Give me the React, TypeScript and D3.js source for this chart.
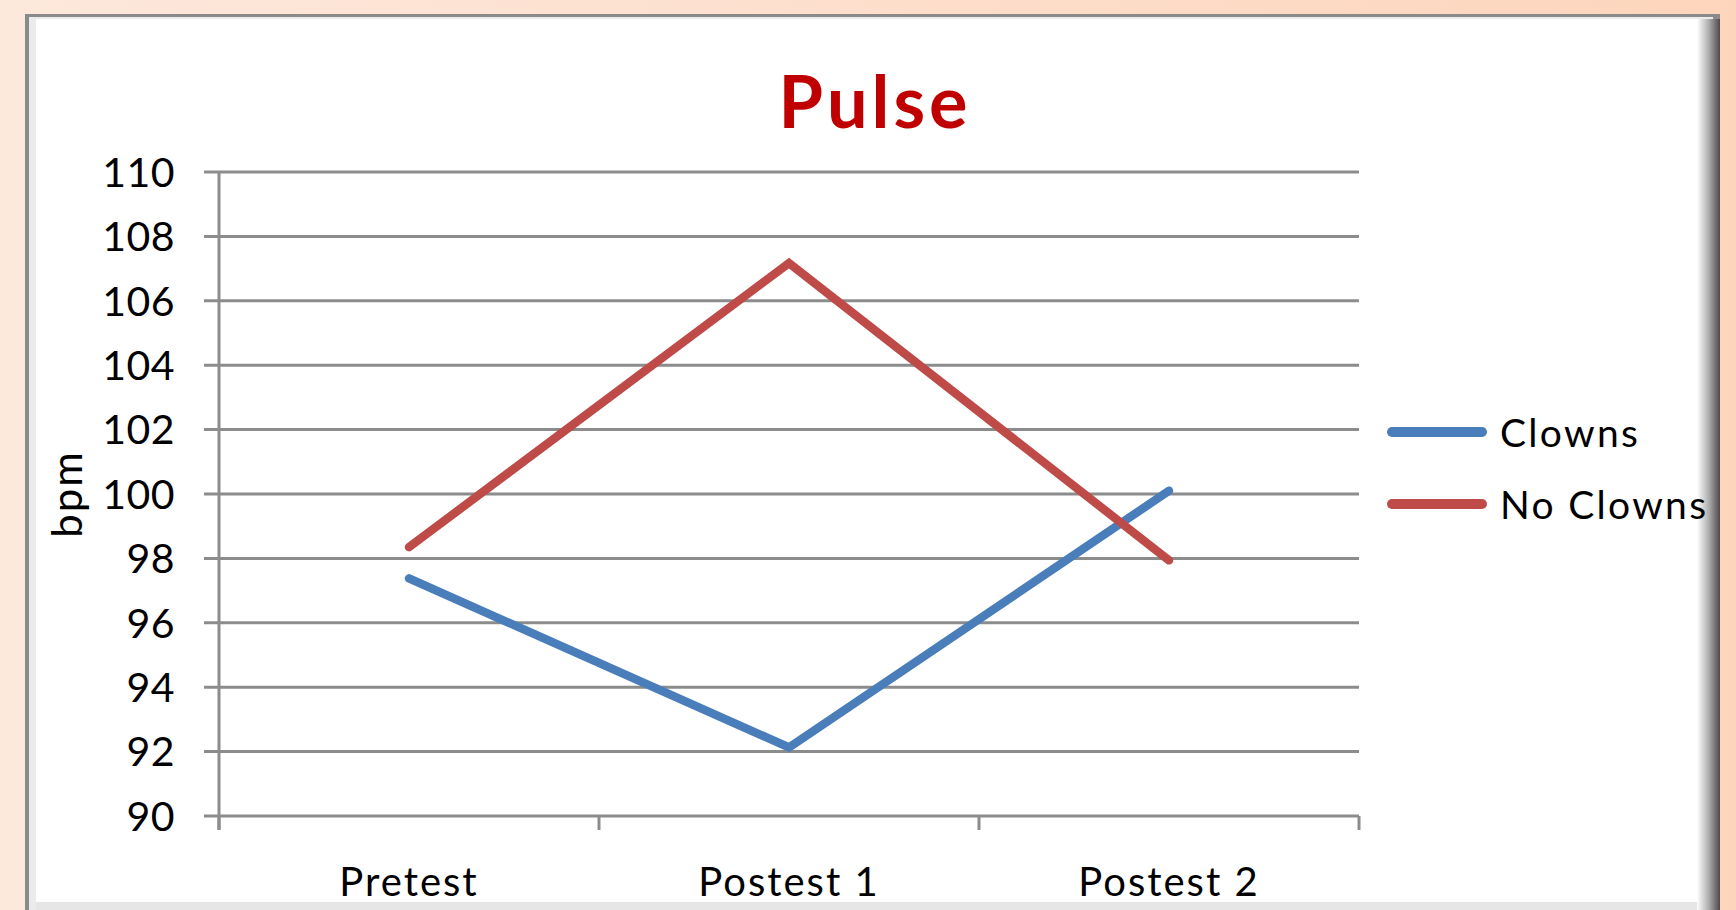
import { useRef, useEffect } from 'react';
import * as d3 from 'd3';

// Pulse (bpm) at each measurement point
const CATEGORIES = ['Pretest', 'Postest 1', 'Postest 2'];
const CLOWNS = [97.38, 92.13, 100.1];
const NO_CLOWNS = [98.35, 107.17, 97.94];
const Y_TICKS = [90, 92, 94, 96, 98, 100, 102, 104, 106, 108, 110];

const SERIES = [
  { name: 'Clowns', values: CLOWNS, color: '#4a7ebb' },
  { name: 'No Clowns', values: NO_CLOWNS, color: '#be4b48' },
];

export default function App() {
  const ref = useRef<SVGSVGElement>(null);

  useEffect(() => {
    const svg = ref.current;
    if (!svg) return;
    const W = 1736, H = 910;
    const padL = 219, padR = 1359, padT = 172, padB = 816;
    const font = 'Lato, "Open Sans", sans-serif';

    d3.select(svg).selectAll('*').remove();
    const root = d3.select(svg).attr('width', W).attr('height', H).attr('viewBox', `0 0 ${W} ${H}`);

    // Background: peach page and white panel with shadowed edge
    const defs = root.append('defs');
    const bg = defs.append('linearGradient').attr('id', 'bg').attr('x1', 0).attr('x2', 1).attr('y1', 0).attr('y2', 0);
    bg.append('stop').attr('offset', 0).attr('stop-color', '#fde8dc');
    bg.append('stop').attr('offset', 1).attr('stop-color', '#fdd5bc');
    const sh = defs.append('linearGradient').attr('id', 'sh').attr('x1', 0).attr('x2', 1).attr('y1', 0).attr('y2', 0);
    sh.append('stop').attr('offset', 0).attr('stop-color', '#ffffff');
    sh.append('stop').attr('offset', 0.5).attr('stop-color', '#b0b0b0');
    sh.append('stop').attr('offset', 1).attr('stop-color', '#4a4a4a');

    root.append('rect').attr('width', W).attr('height', H).attr('fill', 'url(#bg)');
    root.append('rect').attr('x', 25).attr('y', 14).attr('width', 1695).attr('height', H).attr('fill', '#8a8a8a');
    root.append('rect').attr('x', 29).attr('y', 17).attr('width', 1684).attr('height', H).attr('fill', '#ebebeb');
    root.append('rect').attr('x', 36).attr('y', 19).attr('width', 1677).attr('height', 883).attr('fill', '#ffffff');
    root.append('rect').attr('x', 1697).attr('y', 19).attr('width', 23).attr('height', H).attr('fill', 'url(#sh)');
    root.append('rect').attr('x', 36).attr('y', 902).attr('width', 1661).attr('height', 8).attr('fill', '#e6e6e6');

    const g = root.append('g');

    const x = d3.scaleBand<string>().domain(CATEGORIES).range([padL, padR]).padding(0);
    const y = d3.scaleLinear().domain([90, 110]).range([padB, padT]);

    // Gridlines + y ticks
    Y_TICKS.forEach((v) => {
      g.append('line')
        .attr('x1', padL - 15).attr('x2', padR).attr('y1', y(v)).attr('y2', y(v))
        .attr('stroke', '#8c8c8c').attr('stroke-width', 3);
      g.append('text')
        .attr('x', 175).attr('y', y(v)).attr('dy', '0.36em')
        .attr('text-anchor', 'end').attr('font-family', font).attr('font-size', 41)
        .attr('letter-spacing', 0.5).attr('fill', '#000')
        .text(v);
    });

    // Y axis
    g.append('line').attr('x1', padL).attr('x2', padL).attr('y1', padT).attr('y2', padB + 14)
      .attr('stroke', '#8c8c8c').attr('stroke-width', 3);

    // X ticks at band edges
    [...CATEGORIES.map((c) => x(c) as number), padR].forEach((px) => {
      g.append('line').attr('x1', px).attr('x2', px).attr('y1', padB).attr('y2', padB + 14)
        .attr('stroke', '#8c8c8c').attr('stroke-width', 3);
    });

    // X labels
    CATEGORIES.forEach((c) => {
      g.append('text')
        .attr('x', (x(c) as number) + x.bandwidth() / 2).attr('y', 896)
        .attr('text-anchor', 'middle').attr('font-family', font).attr('font-size', 40)
        .attr('letter-spacing', 2).attr('fill', '#000')
        .text(c);
    });

    // Lines
    const line = d3.line<number>()
      .x((_, i) => (x(CATEGORIES[i]) as number) + x.bandwidth() / 2)
      .y((d) => y(d));

    SERIES.forEach((s) => {
      g.append('path').datum(s.values).attr('d', line)
        .attr('fill', 'none').attr('stroke', s.color).attr('stroke-width', 8.5)
        .attr('stroke-linecap', 'round').attr('stroke-linejoin', 'miter');
    });

    // Legend
    SERIES.forEach((s, i) => {
      const ly = 432 + i * 72;
      g.append('line').attr('x1', 1392).attr('x2', 1482).attr('y1', ly).attr('y2', ly)
        .attr('stroke', s.color).attr('stroke-width', 10).attr('stroke-linecap', 'round');
      g.append('text').attr('x', 1500).attr('y', ly + 15)
        .attr('font-family', font).attr('font-size', 39).attr('letter-spacing', 2.3).attr('fill', '#000')
        .text(s.name);
    });

    // Axis title
    g.append('text')
      .attr('transform', `translate(82, ${(padT + padB) / 2}) rotate(-90)`)
      .attr('text-anchor', 'middle').attr('font-family', font).attr('font-size', 42)
      .attr('letter-spacing', 2).attr('fill', '#000')
      .text('bpm');

    // Chart title
    g.append('text')
      .attr('x', 875).attr('y', 128).attr('text-anchor', 'middle')
      .attr('font-family', font).attr('font-weight', 'bold').attr('font-size', 72)
      .attr('letter-spacing', 4).attr('fill', '#c00000')
      .text('Pulse');
  }, []);

  return (
    <svg ref={ref} style={{ position: 'absolute', left: 0, top: 0, display: 'block' }} />
  );
}
